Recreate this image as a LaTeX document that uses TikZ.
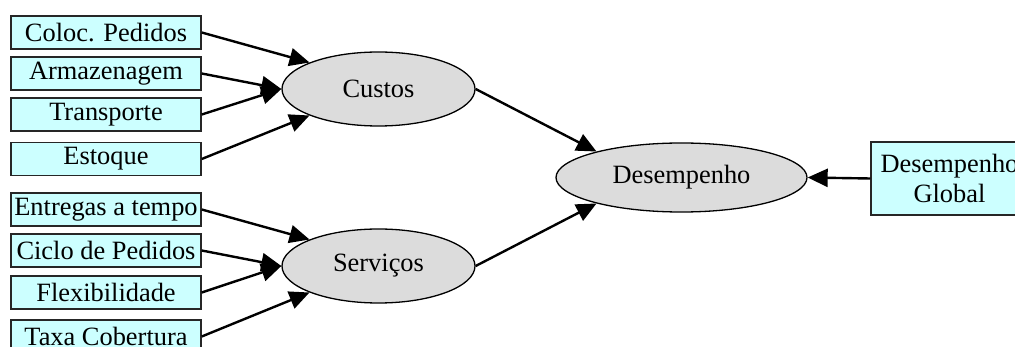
\documentclass[tikz,border=0pt]{standalone}
\usepackage{fontspec}
\setmainfont{Liberation Serif}
\usetikzlibrary{arrows.meta,shapes.geometric}
\definecolor{boxc}{HTML}{CCFFFF}
\definecolor{ellc}{HTML}{DCDCDC}
\begin{document}
\begin{tikzpicture}[x=1pt,y=-1pt,
  lbl/.style={font=\fontsize{26.4}{30}\selectfont},
  box/.style={lbl, draw=black!85, line width=1.5pt, fill=boxc, minimum width=190pt, minimum height=33pt, inner sep=0pt},
  ell/.style={lbl, ellipse, draw=black, line width=1.3pt, fill=ellc, inner sep=0pt},
  arr/.style={-{Triangle[length=20pt,width=18pt]}, line width=2.4pt}]
\useasboundingbox (0,0) rectangle (1015,347);
\clip (0,0) rectangle (1015,347);
% left boxes
\node[box] (coloc) at (106,32.5) {Coloc. Pedidos};
\node[box] (armaz) at (106,73.5) {Armazenagem};
\node[box] (transp) at (106,114.5) {Transporte};
\node[box] (estoq) at (106,159) {Estoque};
\node[box] (entreg) at (106,209.5) {Entregas a tempo};
\node[box] (ciclo) at (106,250.5) {Ciclo de Pedidos};
\node[box] (flex) at (106,292.5) {Flexibilidade};
\node[box] (taxa) at (106,336.5) {Taxa Cobertura};
% ellipses
\node[ell, minimum width=193pt, minimum height=74pt] (custos) at (378.5,89) {Custos};
\node[ell, minimum width=193pt, minimum height=74pt] (serv) at (378.5,266) {Serviços};
\node[ell, minimum width=251pt, minimum height=69pt] (des) at (681.5,177.5) {Desempenho};
% global box
\node[box, align=center, minimum width=157pt, minimum height=73pt] (glob) at (949.5,178.5) {Desempenho\\Global};
% arrows
\draw[arr] (coloc.east) -- (custos.159);
\draw[arr] (armaz.east) -- (custos.west);
\draw[arr] (transp.east) -- (custos.west);
\draw[arr] (estoq.east) -- (custos.201);
\draw[arr] (entreg.east) -- (serv.159);
\draw[arr] (ciclo.east) -- (serv.west);
\draw[arr] (flex.east) -- (serv.west);
\draw[arr] (taxa.east) -- (serv.201);
\draw[arr] (custos.east) -- (des.163);
\draw[arr] (serv.east) -- (des.197);
\draw[arr] (glob.west) -- (des.east);
\end{tikzpicture}
\end{document}
